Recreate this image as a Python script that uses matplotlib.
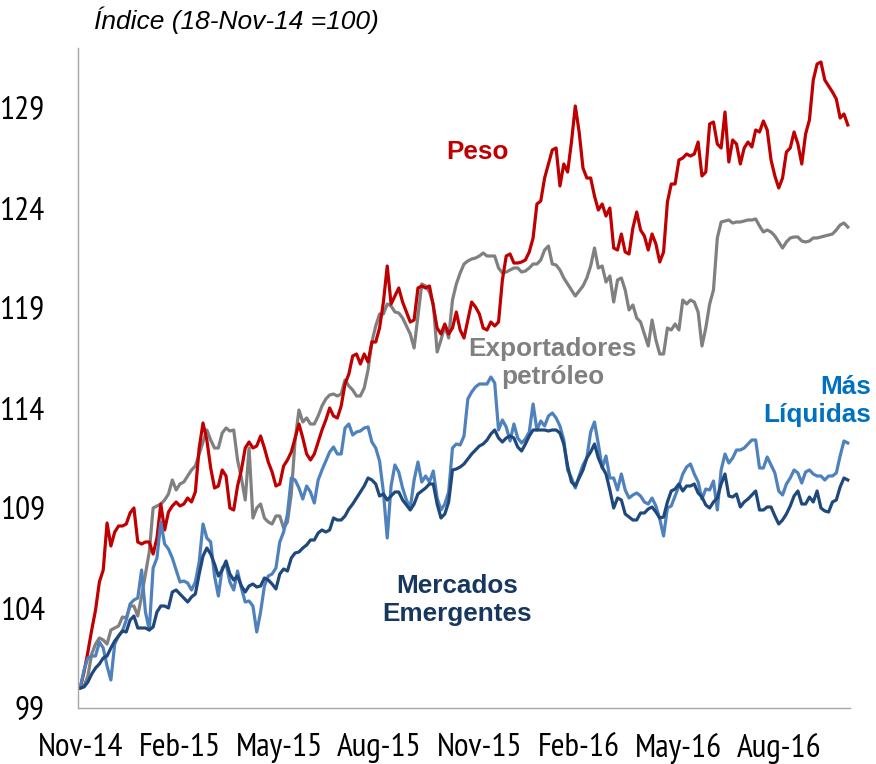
import matplotlib
matplotlib.use("Agg")
import matplotlib.pyplot as plt
from matplotlib import font_manager
import pandas as pd

# ---------------- data (twice-weekly readings, index 18-Nov-14 = 100) ----------------
start_date = "2014-11-18"
step = "84h"   # half a week between readings

peso = [100.0, 100.8, 101.8, 102.9, 103.9, 105.3, 105.9, 108.25, 107.1, 107.8,
        108.1, 108.1, 108.2, 108.75, 109.0, 107.3, 107.2, 107.3, 107.3, 106.7,
        107.5, 109.2, 107.9, 108.8, 109.1, 109.3, 109.1, 109.2, 109.5, 109.3,
        109.8, 112.0, 113.25, 112.4, 111.0, 110.0, 110.1, 110.9, 110.6, 109.0,
        108.9, 110.1, 110.9, 112.0, 112.3, 112.0, 112.1, 112.6, 112.0, 111.3,
        110.8, 110.1, 110.2, 111.1, 111.4, 111.8, 112.5, 113.2, 112.5, 111.7,
        111.4, 111.7, 112.3, 112.9, 113.4, 114.0, 113.6, 113.5, 114.1, 115.2,
        115.7, 116.6, 116.7, 116.2, 116.7, 116.3, 117.3, 117.3, 118.0, 119.3,
        121.1, 119.2, 119.6, 120.0, 119.3, 118.8, 118.3, 118.4, 120.0, 120.1,
        120.0, 120.1, 119.1, 118.0, 117.7, 118.2, 117.7, 118.0, 118.8, 117.9,
        117.5, 118.4, 119.3, 119.05, 118.7, 118.0, 117.9, 118.3, 118.1, 118.3,
        120.4, 121.6, 121.7, 121.25, 121.25, 121.3, 121.4, 121.8, 122.5, 124.2,
        124.35, 125.5, 126.2, 126.9, 127.0, 125.1, 126.2, 125.8, 127.3, 129.1,
        127.8, 126.0, 125.5, 125.5, 124.6, 123.9, 124.2, 123.6, 124.0, 122.0,
        121.9, 122.7, 121.8, 121.7, 123.0, 123.8, 122.9, 122.6, 121.9, 122.7,
        122.2, 121.3, 121.8, 124.3, 125.2, 125.2, 126.4, 126.5, 126.7, 126.6,
        126.7, 127.3, 125.6, 125.8, 128.2, 128.3, 127.2, 127.0, 128.8, 126.3,
        127.4, 127.2, 126.2, 127.0, 127.3, 127.05, 127.9, 127.8, 128.35, 127.9,
        126.4, 125.6, 125.0, 125.5, 126.8, 127.0, 127.8, 127.2, 126.2, 127.7,
        128.4, 130.4, 131.2, 131.3, 130.4, 130.1, 129.8, 129.45, 128.5, 128.7,
        128.15]

exportadores = [100.0, 100.1, 100.6, 101.7, 102.2, 102.5, 102.4, 102.2, 102.9, 103.0,
                103.1, 103.55, 103.5, 104.1, 104.1, 103.6, 104.6, 105.7, 106.8, 109.0,
                109.1, 109.2, 109.4, 109.7, 110.4, 109.9, 110.2, 110.3, 110.6, 110.9,
                111.1, 111.7, 112.3, 112.9, 112.4, 112.0, 112.0, 112.75, 113.0, 112.85,
                112.9, 111.4, 110.5, 109.4, 112.0, 108.5, 109.0, 109.2, 108.5, 108.3,
                108.2, 108.6, 108.6, 108.0, 108.3, 109.7, 112.4, 113.9, 113.3, 113.5,
                113.2, 113.2, 113.6, 114.1, 114.45, 114.65, 114.7, 114.6, 114.7, 115.4,
                115.1, 114.9, 114.6, 114.6, 115.0, 115.9, 117.3, 118.1, 118.7, 118.7,
                119.2, 119.1, 118.8, 118.75, 118.5, 118.1, 117.7, 117.0, 118.6, 120.2,
                120.1, 119.8, 119.2, 116.8, 117.4, 118.1, 117.5, 119.4, 120.2, 120.75,
                121.2, 121.35, 121.45, 121.5, 121.6, 121.75, 121.6, 121.6, 121.6, 121.0,
                120.75, 120.8, 120.9, 121.0, 121.0, 120.8, 120.85, 121.0, 121.2, 121.2,
                121.4, 121.9, 122.1, 121.2, 121.15, 120.9, 120.5, 120.2, 119.9, 119.6,
                119.85, 120.1, 120.5, 121.1, 122.0, 121.0, 121.1, 120.3, 120.6, 119.3,
                120.4, 120.5, 119.9, 118.9, 119.15, 118.5, 118.3, 117.7, 117.1, 118.4,
                117.4, 116.7, 116.7, 118.0, 117.9, 118.2, 117.9, 119.4, 119.2, 119.4,
                119.3, 118.8, 117.1, 118.0, 119.2, 119.9, 122.5, 123.3, 123.35, 123.4,
                123.25, 123.3, 123.3, 123.35, 123.4, 123.4, 123.45, 123.1, 122.8, 122.9,
                122.8, 122.6, 122.3, 122.0, 122.3, 122.5, 122.55, 122.55, 122.35, 122.3,
                122.35, 122.5, 122.5, 122.55, 122.6, 122.65, 122.7, 122.9, 123.15, 123.25,
                123.05]

mas_liquidas = [100.0, 100.9, 101.5, 101.6, 101.6, 102.3, 102.0, 101.1, 100.4, 102.2,
                102.6, 102.85, 103.4, 104.2, 104.4, 104.5, 105.9, 103.8, 102.9, 106.0,
                106.5, 108.3, 107.2, 106.95, 106.5, 105.9, 105.3, 105.35, 105.25, 104.9,
                105.3, 106.3, 108.2, 107.5, 107.3, 105.6, 104.6, 106.0, 106.2, 105.3,
                104.9, 105.85, 105.0, 104.3, 104.35, 104.1, 102.8, 103.8, 105.1, 105.6,
                105.7, 106.0, 107.3, 107.8, 108.7, 110.5, 110.4, 110.0, 109.45, 110.1,
                109.8, 109.25, 110.4, 110.9, 111.35, 111.8, 112.05, 111.7, 111.7, 113.0,
                113.2, 112.65, 112.8, 112.85, 113.0, 113.05, 112.3, 112.0, 111.35, 109.8,
                107.5, 110.1, 111.15, 110.8, 110.0, 109.4, 109.0, 110.4, 111.3, 110.3,
                110.6, 110.3, 110.85, 109.5, 108.9, 109.2, 109.8, 112.0, 112.2, 112.15,
                112.6, 114.45, 114.8, 115.05, 115.2, 115.2, 115.2, 115.55, 115.25, 112.9,
                113.4, 113.05, 112.35, 113.2, 112.5, 112.25, 112.45, 112.8, 114.2, 112.9,
                113.35, 113.1, 113.6, 113.75, 113.5, 113.1, 112.4, 110.9, 110.5, 110.0,
                110.6, 111.15, 111.5, 112.8, 113.3, 112.2, 111.0, 111.6, 110.5, 110.5,
                109.9, 110.7, 109.9, 109.5, 109.65, 109.75, 109.6, 109.3, 109.2, 109.5,
                109.1, 108.45, 107.6, 109.0, 109.1, 109.6, 110.1, 110.7, 111.05, 111.2,
                110.7, 110.3, 109.45, 109.95, 109.9, 110.35, 108.9, 110.9, 111.7, 111.25,
                111.5, 111.9, 111.9, 112.0, 112.2, 112.4, 112.4, 111.0, 111.0, 111.55,
                111.15, 110.75, 109.85, 109.65, 110.2, 110.5, 110.9, 110.75, 110.25, 110.8,
                110.9, 110.7, 110.6, 110.6, 110.4, 110.6, 110.6, 110.75, 111.6, 112.35,
                112.25]

mercados_emergentes = [100.0, 100.05, 100.3, 100.7, 101.0, 101.2, 101.5, 101.6, 102.0, 102.35,
                       102.6, 102.85, 102.8, 103.4, 103.6, 103.0, 103.0, 103.0, 102.9, 103.05,
                       103.8, 104.1, 104.1, 104.0, 104.8, 104.9, 104.7, 104.5, 104.3, 104.55,
                       104.7, 105.7, 106.6, 107.0, 106.7, 106.2, 105.6, 105.9, 106.35, 105.7,
                       105.4, 105.6, 105.1, 104.8, 105.1, 105.2, 105.05, 105.1, 105.5, 105.4,
                       105.2, 104.95, 105.7, 105.95, 105.85, 106.5, 106.75, 106.8, 107.0, 107.15,
                       107.4, 107.4, 107.75, 107.9, 107.8, 107.9, 108.5, 108.4, 108.4, 108.6,
                       108.95, 109.2, 109.5, 109.8, 110.1, 110.5, 110.4, 110.2, 109.6, 109.7,
                       109.4, 109.6, 109.8, 109.8, 109.4, 109.15, 108.9, 109.2, 109.7, 109.85,
                       110.0, 110.2, 110.2, 109.2, 108.5, 108.7, 109.3, 110.9, 110.95, 111.05,
                       111.2, 111.45, 111.7, 111.9, 112.1, 112.2, 112.4, 112.7, 112.9, 112.5,
                       112.3, 112.5, 112.6, 112.5, 112.05, 111.85, 112.2, 112.6, 112.9, 112.9,
                       112.9, 112.9, 112.85, 112.9, 112.9, 112.75, 112.2, 111.1, 110.3, 110.1,
                       110.5, 110.9, 111.5, 111.8, 112.2, 111.5, 111.05, 110.7, 109.9, 109.0,
                       109.5, 109.4, 108.7, 108.55, 108.4, 108.4, 108.75, 108.75, 108.95, 109.05,
                       108.8, 108.5, 108.55, 109.3, 109.85, 109.95, 110.2, 109.85, 110.1, 110.1,
                       110.2, 109.75, 109.55, 109.15, 109.0, 109.3, 109.5, 110.2, 110.7, 109.6,
                       109.55, 109.7, 109.05, 109.3, 109.45, 109.65, 109.85, 108.9, 108.9, 109.05,
                       109.05, 108.6, 108.2, 108.4, 108.7, 109.1, 109.6, 109.85, 109.2, 109.2,
                       109.55, 109.3, 109.85, 109.0, 108.85, 108.8, 109.3, 109.4, 110.05, 110.5,
                       110.4]

y_ticks = [99, 104, 109, 114, 119, 124, 129]
tick_labels_x = ["Nov-14", "Feb-15", "May-15", "Aug-15", "Nov-15", "Feb-16", "May-16", "Aug-16"]
title_text = "Índice (18-Nov-14 =100)"
series_labels = {
    "peso": "Peso",
    "exportadores": "Exportadores\npetróleo",
    "mas_liquidas": "Más\nLíquidas",
    "mercados_emergentes": "Mercados\nEmergentes",
}

# ---------------- styling ----------------
red = "#C00000"
gray = "#808080"
light_blue = "#4F81BD"
dark_blue = "#1F497D"

names = {f.name for f in font_manager.fontManager.ttflist}
narrow_pref = ["Liberation Sans Narrow", "Arial Narrow", "PT Sans Narrow",
               "Archivo Narrow", "Roboto Condensed", "Asap Condensed"]
narrow_name = next((n for n in narrow_pref if n in names), "Liberation Sans")
narrow = [narrow_name, "Liberation Sans", "DejaVu Sans"]
plt.rcParams["font.family"] = ["Liberation Sans", "DejaVu Sans"]

W, H = 876, 764
fig = plt.figure(figsize=(W / 100, H / 100), dpi=100)
ax_l, ax_r, ax_b, ax_t = 78, 850, 708, 48
ax = fig.add_axes([ax_l / W, 1 - ax_b / H, (ax_r - ax_l) / W, (ax_b - ax_t) / H])

# size the narrow tick font so that "Feb-15" is about 83 px wide
renderer = fig.canvas.get_renderer()
probe = fig.text(0, 0, "Feb-15", family=narrow, fontsize=20)
w = probe.get_window_extent(renderer=renderer).width
probe.remove()
tick_fs = min(24.0, 20.0 * 83.0 / w)

dates = pd.date_range(start_date, periods=len(peso), freq=step)

lw = 2.3
ax.plot(dates, exportadores, color=gray, lw=lw, solid_joinstyle="round")
ax.plot(dates, peso, color=red, lw=lw, solid_joinstyle="round")
ax.plot(dates, mas_liquidas, color=light_blue, lw=lw, solid_joinstyle="round")
ax.plot(dates, mercados_emergentes, color=dark_blue, lw=lw, solid_joinstyle="round")

pad = pd.Timedelta(days=2)
ax.set_xlim(dates[0] - pad, dates[-1] + pad)
ax.set_ylim(99, 132)

tick_dates = [dates[0] + pd.Timedelta(weeks=13 * k) for k in range(len(tick_labels_x))]
ax.set_xticks(tick_dates)
ax.set_xticklabels(tick_labels_x, family=narrow, fontsize=tick_fs)
ax.set_yticks(y_ticks)
ax.set_yticklabels([str(v) for v in y_ticks], family=narrow, fontsize=tick_fs)
ax.tick_params(axis="x", length=0, pad=18)
ax.tick_params(axis="y", length=0, pad=24)

for s in ["top", "right"]:
    ax.spines[s].set_visible(False)
for s in ["left", "bottom"]:
    ax.spines[s].set_color("#A6A6A6")
    ax.spines[s].set_linewidth(1.0)

def fx(px):
    return (px - ax_l) / (ax_r - ax_l)

def fy(py):
    return (ax_b - py) / (ax_b - ax_t)

fig.text(94 / W, 1 - 20 / H, title_text, fontsize=19, style="italic",
         ha="left", va="center", color="black")

lab = dict(transform=ax.transAxes, fontsize=18.8, fontweight="bold", linespacing=1.25)
ax.text(fx(477), fy(152), series_labels["peso"], color=red, ha="center", va="center", **lab)
ax.text(fx(553), fy(363), series_labels["exportadores"], color=gray, ha="center", va="center",
        multialignment="center", **lab)
ax.text(fx(871), fy(401), series_labels["mas_liquidas"], color="#0070C0", ha="right", va="center",
        multialignment="right", clip_on=False, **lab)
ax.text(fx(457), fy(600), series_labels["mercados_emergentes"], color="#17375E", ha="center",
        va="center", multialignment="center", **lab)

fig.savefig("out.png", dpi=100)
